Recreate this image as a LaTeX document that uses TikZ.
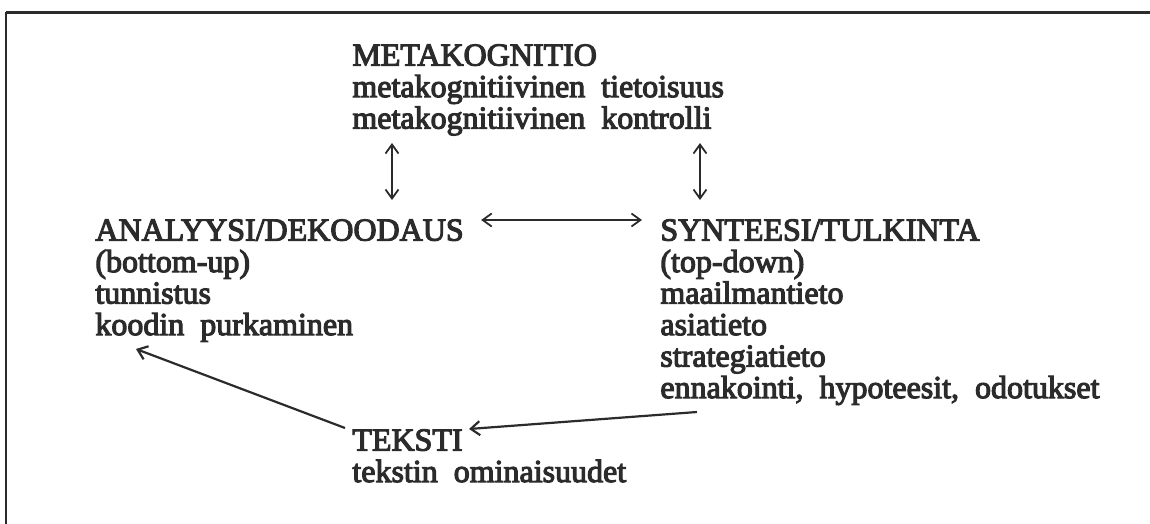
\documentclass[tikz,border=0pt]{standalone}
\usepackage{fontspec}
\setmainfont{Liberation Serif}
\newfontfamily\scanfont[FakeBold=3.5]{Liberation Serif}
\usetikzlibrary{arrows.meta}
\definecolor{ink}{HTML}{2B2B2B}

\begin{document}
\begin{tikzpicture}[x=0.5pt,y=-0.5pt,
	block/.style={anchor=north west,inner sep=0pt,align=left,text=ink,
		font=\scanfont\fontsize{16}{15.75}\selectfont},
	dbl/.style={{Straight Barb[length=4.5pt,width=6.5pt]}-{Straight Barb[length=4.5pt,width=6.5pt]},
		line width=0.9pt,draw=ink},
	arr/.style={-{Straight Barb[length=4.5pt,width=7pt]},line width=1.1pt,draw=ink}]
	\useasboundingbox (0,0) rectangle (1150,524);
	% frame (only top and left edges are in the scan)
	\draw[ink,line width=1.5pt] (1150,13)--(6,13);
	\draw[ink,line width=1pt] (6,12.5)--(6,524);
	% text blocks
	\node[block] (meta) at (352,44) {METAKOGNITIO\\
		metakognitiivinen\ \ tietoisuus\\
		metakognitiivinen\ \ kontrolli};
	\node[block] (analyysi) at (95,219) {ANALYYSI/DEKOODAUS\\
		(bottom-up)\\
		tunnistus\\
		koodin\ \ purkaminen};
	\node[block] (synteesi) at (660,219) {SYNTEESI/TULKINTA\\
		(top-down)\\
		maailmantieto\\
		asiatieto\\
		strategiatieto\\
		ennakointi,\ \ hypoteesit,\ \ odotukset};
	\node[block] (teksti) at (352,429) {TEKSTI};
	\node[block,anchor=base west] (tekstiB) at (352,482) {tekstin\ \ ominaisuudet};
	% free ends of the connectors
	\coordinate (metaL) at (392,143);
	\coordinate (anaT) at (392,200);
	\coordinate (metaR) at (700,143);
	\coordinate (synT) at (700,200);
	\coordinate (anaB) at (136,349);
	\coordinate (synB) at (697,412);
	% connectors
	\draw[dbl] (metaL)--(anaT);
	\draw[dbl] (metaR)--(synT);
	\draw[dbl] ([xshift=8.5pt,yshift=-0.5pt]analyysi.north east)--([xshift=-9pt,yshift=-0.5pt]synteesi.north west);
	\draw[arr] ([xshift=-3.5pt,yshift=0.5pt]teksti.north west)--(anaB);
	\draw[arr] (synB)--([xshift=3pt]teksti.north east);
\end{tikzpicture}
\end{document}
